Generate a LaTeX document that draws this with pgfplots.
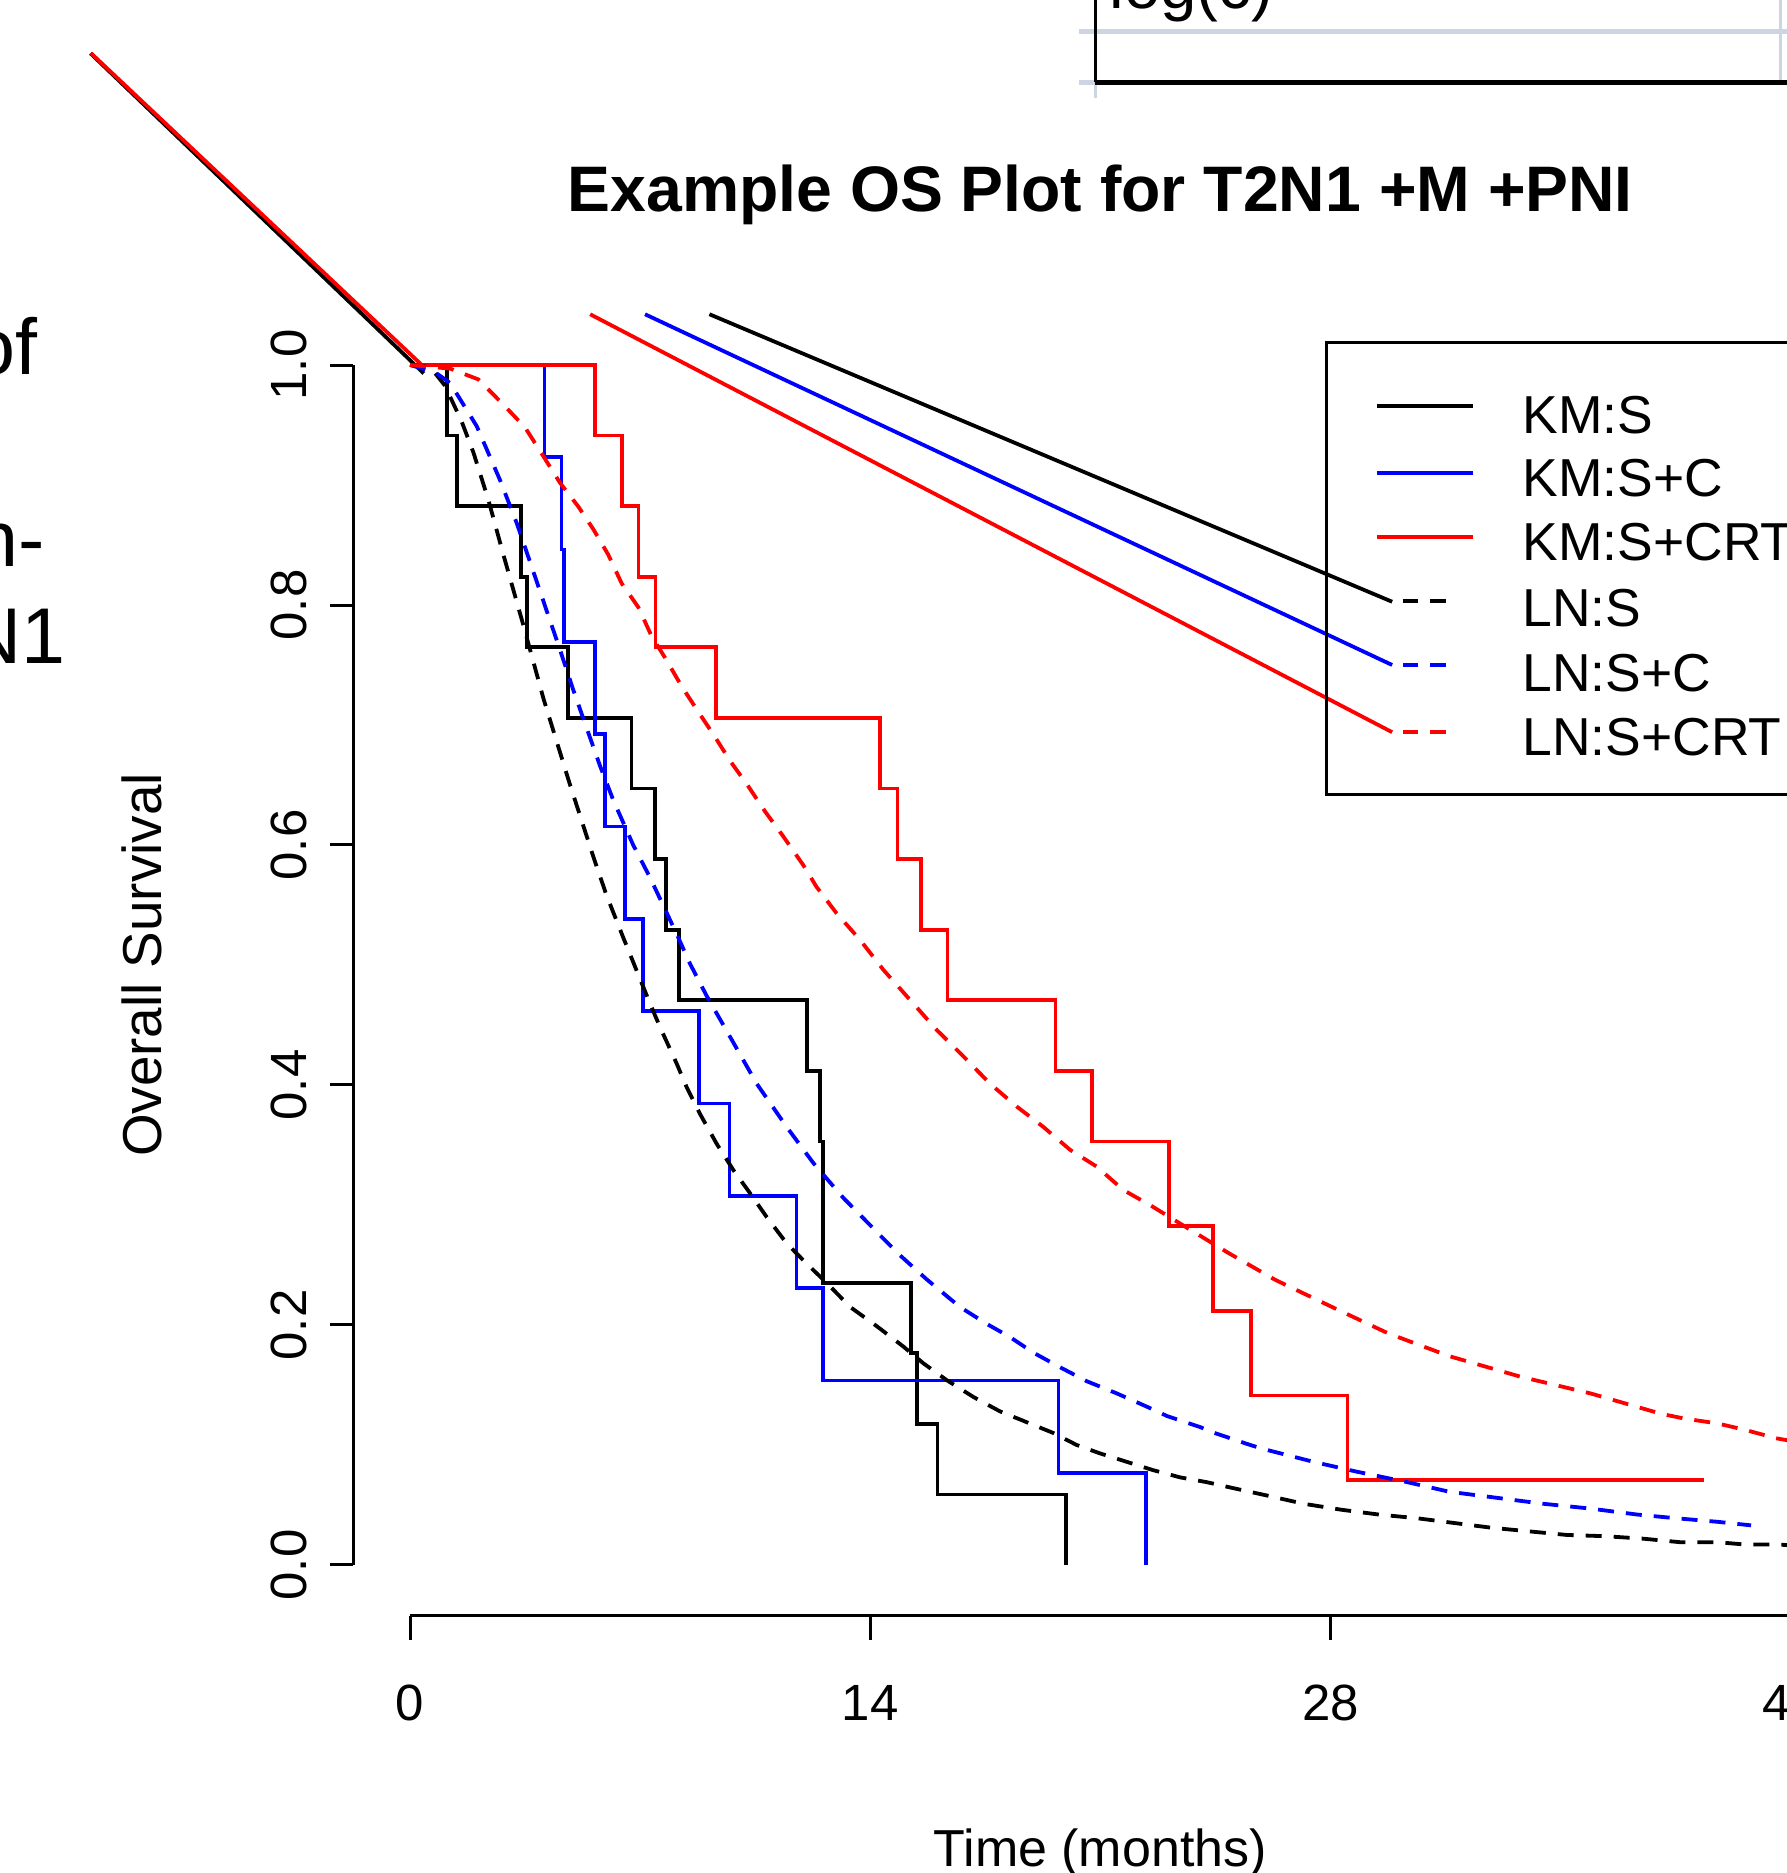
\documentclass[border=0pt]{standalone}
\usepackage{pgfplots}
\pgfplotsset{compat=1.18}
\usepackage{fontspec}
\setmainfont{Liberation Sans}

\definecolor{framegray}{RGB}{205,213,226}
\tikzset{lndash/.style={dash pattern=on 1.6mm off 1.2mm}}
\newcommand{\basefont}{\fontsize{14.5}{17}\selectfont}
\newcommand{\legfont}{\fontsize{15.2}{18}\selectfont}
\newcommand{\titlefont}{\fontsize{18.3}{22}\selectfont\bfseries}
\newcommand{\bigfont}{\fontsize{22.5}{27}\selectfont}

\begin{document}
\begin{tikzpicture}
\begin{axis}[
    scale only axis,
    width=178.7mm, height=187.3mm,
    xmin=-12.474, xmax=41.893,
    ymin=-0.2567, ymax=1.3042,
    axis line style={draw=none},
    xtick=\empty, ytick=\empty,
    every axis plot/.append style={line width=0.38mm},
]

% stray box at the top right
\draw[framegray, line width=0.5mm] (axis cs:20.35,1.2777) -- (axis cs:45,1.2777);
\draw[framegray, line width=0.5mm] (axis cs:20.35,1.2356) -- (axis cs:20.87,1.2356);
\draw[framegray, line width=0.33mm] (axis cs:41.70,1.35) -- (axis cs:41.70,1.2375);
\draw[framegray, line width=0.3mm] (axis cs:20.87,1.234) -- (axis cs:20.87,1.2225);
\draw[line width=0.3mm] (axis cs:20.87,1.35) -- (axis cs:20.87,1.2356);
\draw[line width=0.47mm] (axis cs:20.85,1.2356) -- (axis cs:45,1.2356);
\node[anchor=base west, inner sep=0pt, font=\fontsize{18.6}{22}\selectfont] at (axis cs:21.26,1.2975) {log(c)};

% text fragments on the left
\node[anchor=base east, inner sep=0pt, font=\bigfont] at (axis cs:-11.3,0.9917) {of};
\node[anchor=base east, inner sep=0pt, font=\bigfont] at (axis cs:-11.1,0.8319) {n-};
\node[anchor=base east, inner sep=0pt, font=\bigfont] at (axis cs:-10.46,0.7514) {N1};

% title and axis labels
\node[anchor=base, inner sep=0pt, font=\titlefont] at (axis cs:21,1.1277) {Example OS Plot for T2N1 +M +PNI};
\node[anchor=base, inner sep=0pt, font=\fontsize{14.8}{17}\selectfont] at (axis cs:21,-0.2514) {Time (months)};
\node[rotate=90, anchor=base, inner sep=0pt, font=\fontsize{15.6}{18}\selectfont] at (axis cs:-7.57,0.5) {Overall Survival};

% y axis
\draw[line width=0.3mm] (axis cs:-1.734,0) -- (axis cs:-1.734,1);
\pgfplotsinvokeforeach{0.0,0.2,0.4,0.6,0.8,1.0}{
  \draw[line width=0.3mm] (axis cs:-2.434,#1) -- (axis cs:-1.734,#1);
  \node[rotate=90, anchor=base, inner sep=0pt, font=\basefont] at (axis cs:-3.15,#1) {#1};
}
% x axis
\draw[line width=0.3mm] (axis cs:0,-0.0425) -- (axis cs:45,-0.0425);
\pgfplotsinvokeforeach{0,14,28,42}{
  \draw[line width=0.3mm] (axis cs:#1,-0.0425) -- (axis cs:#1,-0.0625);
  \node[anchor=base, inner sep=0pt, font=\basefont] at (axis cs:#1,-0.1292) {#1};
}

% diagonal line at the top left
\addplot[black] coordinates {(-9.72,1.2597) (0.42,0.993)};
\addplot[red] coordinates {(-9.70,1.2597) (0.36,1.0)};

% KM:S
\addplot[black, const plot] coordinates {
  (0,1) (1.12,0.9412) (1.42,0.8824) (3.37,0.8235) (3.57,0.7647)
  (4.80,0.7059) (6.74,0.6471) (7.46,0.5882) (7.78,0.5294) (8.19,0.4706)
  (12.07,0.4118) (12.47,0.3529) (12.57,0.2353) (15.23,0.1765)
  (15.43,0.1176) (16.05,0.0588) (19.95,0)
};
% KM:S+C
\addplot[blue, const plot] coordinates {
  (0,1) (4.09,0.9231) (4.61,0.8462) (4.69,0.7692) (5.63,0.6923)
  (5.93,0.6154) (6.54,0.5385) (7.08,0.4615) (8.80,0.3846) (9.72,0.3077)
  (11.76,0.2308) (12.57,0.1538) (19.73,0.0769) (22.39,0)
};
% KM:S+CRT
\addplot[red, const plot] coordinates {
  (0,1) (5.63,0.9412) (6.44,0.8824) (6.95,0.8235) (7.47,0.7647)
  (9.30,0.7059) (14.31,0.6471) (14.83,0.5882) (15.54,0.5294)
  (16.35,0.4706) (19.64,0.4118) (20.75,0.3529) (23.10,0.2824)
  (24.43,0.2118) (25.58,0.1412) (28.52,0.0706) (39.37,0.0706)
};

% LN:S
\addplot[black, lndash] coordinates {
  (0,1) (0.5,0.999) (0.71,0.995) (1.06,0.983) (1.57,0.953) (1.93,0.927)
  (2.38,0.888) (2.84,0.842) (3.45,0.783) (4.06,0.722) (4.87,0.650)
  (5.58,0.590) (5.98,0.558) (6.50,0.522) (7.30,0.468) (7.61,0.448)
  (8.11,0.418) (8.42,0.398) (8.82,0.376) (9.33,0.351) (9.84,0.329)
  (10.34,0.310) (10.85,0.290) (11.46,0.268) (12.07,0.251) (12.68,0.235)
  (13.39,0.215) (14.20,0.199) (15.01,0.182) (15.62,0.168) (16.33,0.154)
  (17.14,0.140) (17.95,0.128) (18.76,0.119) (19.57,0.110) (20.28,0.100)
  (20.99,0.093) (21.80,0.086) (22.61,0.079) (23.43,0.073) (24.24,0.069)
  (25.05,0.064) (26.05,0.058) (27.19,0.051) (28.34,0.046) (29.48,0.042)
  (30.62,0.039) (31.76,0.035) (32.91,0.031) (34.05,0.028) (35.20,0.025)
  (36.34,0.024) (37.48,0.022) (38.63,0.019) (39.77,0.019) (40.63,0.017)
  (41.56,0.017) (42.5,0.016)
};
% LN:S+C
\addplot[blue, lndash] coordinates {
  (0,1) (0.76,0.994) (1.22,0.985) (2.03,0.949) (2.74,0.904) (3.25,0.868)
  (3.75,0.828) (4.16,0.795) (4.56,0.763) (4.97,0.729) (5.38,0.697)
  (5.78,0.666) (6.19,0.637) (6.79,0.600) (7.30,0.573) (8.11,0.526)
  (8.52,0.501) (9.03,0.474) (9.74,0.440) (10.55,0.401) (11.46,0.365)
  (12.27,0.335) (13.18,0.306) (14.40,0.272) (14.91,0.258) (15.72,0.238)
  (16.73,0.215) (17.54,0.201) (18.25,0.190) (18.96,0.177) (19.76,0.165)
  (20.60,0.153) (21.50,0.143) (22.41,0.132) (23.04,0.124) (24.03,0.115)
  (24.48,0.110) (25.45,0.101) (25.91,0.097) (27.48,0.086) (28.76,0.078)
  (30.34,0.069) (31.62,0.061) (32.77,0.057) (34.48,0.051) (35.91,0.047)
  (37.34,0.042) (38.49,0.039) (39.77,0.036) (40.80,0.033)
};
% LN:S+CRT
\addplot[red, lndash] coordinates {
  (0,1) (1.22,0.997) (2.08,0.988) (2.84,0.967) (3.50,0.948) (4.01,0.926)
  (4.56,0.902) (5.12,0.882) (5.58,0.863) (6.03,0.842) (6.44,0.818)
  (6.95,0.798) (7.35,0.774) (7.76,0.756) (8.27,0.732) (8.77,0.711)
  (9.28,0.690) (9.74,0.670) (10.29,0.649) (10.80,0.628) (11.36,0.607)
  (11.97,0.583) (12.37,0.565) (12.98,0.543) (13.69,0.521) (14.40,0.496)
  (15.21,0.471) (16.02,0.446) (16.83,0.424) (17.65,0.401) (18.46,0.382)
  (19.27,0.365) (20.08,0.346) (20.89,0.332) (21.70,0.3125) (22.51,0.300)
  (23.70,0.280) (24.90,0.260) (26.33,0.2375) (28.05,0.215) (29.76,0.193)
  (31.62,0.174) (33.77,0.157) (35.91,0.143) (38.06,0.126) (38.77,0.122)
  (39.77,0.118) (40.63,0.1125) (41.56,0.1056) (42.5,0.101)
};

% leader lines into the legend
\addplot[black] coordinates {(9.11,1.0423) (29.88,0.8027)};
\addplot[blue] coordinates {(7.15,1.0423) (29.88,0.7500)};
\addplot[red] coordinates {(5.48,1.0423) (29.88,0.6940)};

% legend
\draw[line width=0.3mm] (axis cs:27.88,1.0186) rectangle (axis cs:45,0.6417);
\draw[black, line width=0.38mm] (axis cs:29.41,0.9658) -- (axis cs:32.33,0.9658);
\draw[blue, line width=0.38mm] (axis cs:29.41,0.9098) -- (axis cs:32.33,0.9098);
\draw[red, line width=0.38mm] (axis cs:29.41,0.8564) -- (axis cs:32.33,0.8564);
\draw[black, line width=0.38mm] (axis cs:30.21,0.8033) -- (axis cs:30.67,0.8033) (axis cs:31.03,0.8033) -- (axis cs:31.52,0.8033);
\draw[blue, line width=0.38mm] (axis cs:30.21,0.7500) -- (axis cs:30.67,0.7500) (axis cs:31.03,0.7500) -- (axis cs:31.52,0.7500);
\draw[red, line width=0.38mm] (axis cs:30.21,0.6940) -- (axis cs:30.67,0.6940) (axis cs:31.03,0.6940) -- (axis cs:31.52,0.6940);
\node[anchor=base west, inner sep=0pt, font=\legfont] at (axis cs:33.83,0.9431) {KM:S};
\node[anchor=base west, inner sep=0pt, font=\legfont] at (axis cs:33.83,0.8903) {KM:S+C};
\node[anchor=base west, inner sep=0pt, font=\legfont] at (axis cs:33.83,0.8375) {KM:S+CRT};
\node[anchor=base west, inner sep=0pt, font=\legfont] at (axis cs:33.83,0.7817) {LN:S};
\node[anchor=base west, inner sep=0pt, font=\legfont] at (axis cs:33.83,0.7278) {LN:S+C};
\node[anchor=base west, inner sep=0pt, font=\legfont] at (axis cs:33.83,0.6742) {LN:S+CRT};

\end{axis}
\pgfresetboundingbox
\path (current axis.south west) rectangle (current axis.north east);
\end{tikzpicture}
\end{document}
